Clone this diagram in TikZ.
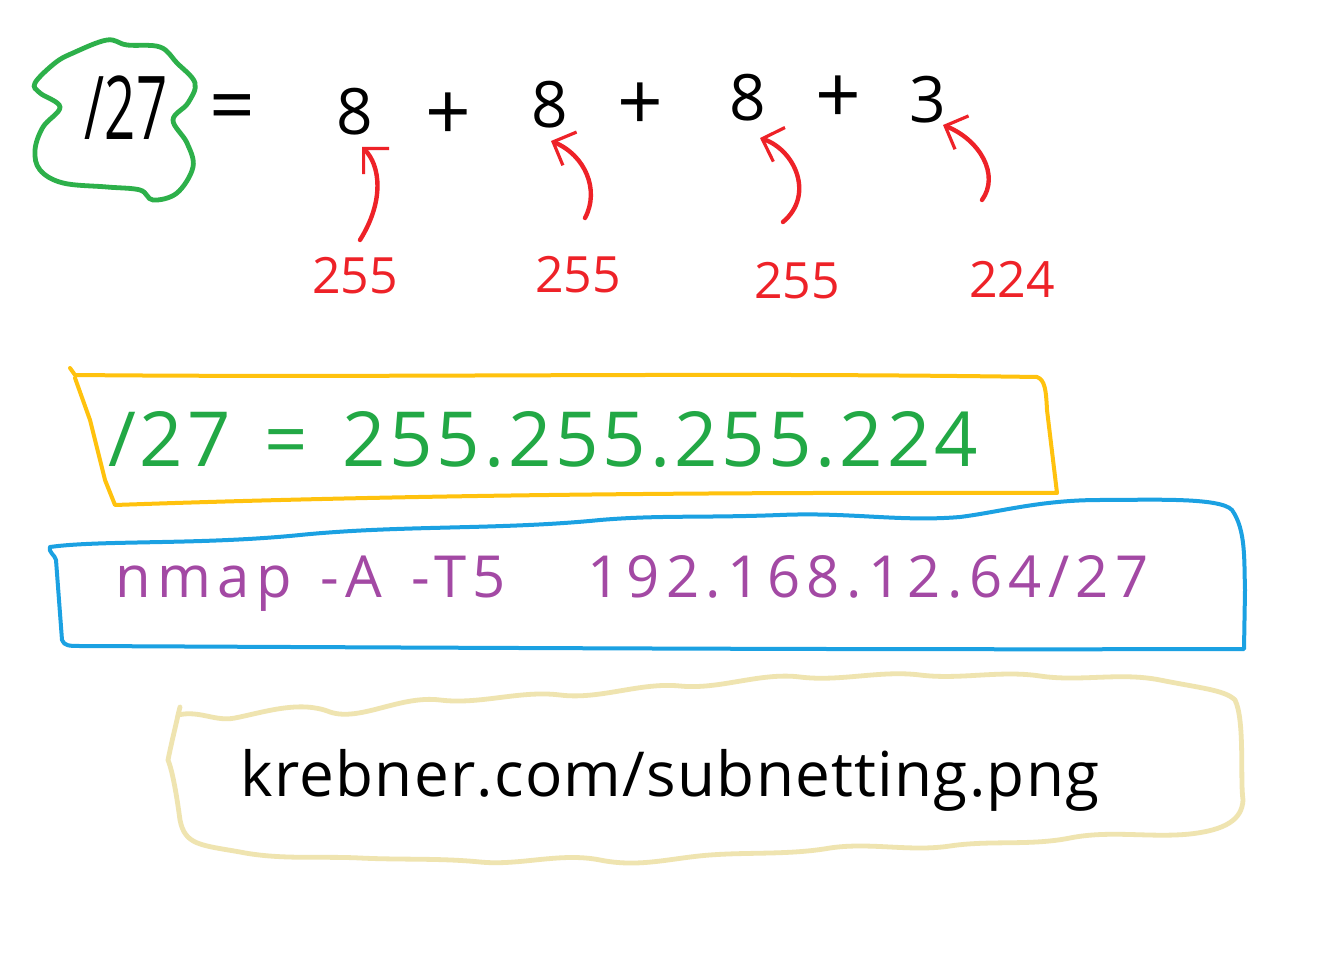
\documentclass[tikz,border=0pt]{standalone}
\usepackage{fontspec}
\setmainfont{Open Sans}
\usetikzlibrary{arrows.meta}
\definecolor{gblob}{HTML}{2DB04A}
\definecolor{redpen}{HTML}{EE2228}
\definecolor{yelbox}{HTML}{FFC20E}
\definecolor{bluebox}{HTML}{1BA1E2}
\definecolor{purpen}{HTML}{A349A4}
\definecolor{greenpen}{HTML}{22A845}
\definecolor{palebox}{HTML}{EFE4B0}
\tikzset{
  inktext/.style={inner sep=0pt, font=\fontsize{#1}{#1}\selectfont},
  blackink/.style={inktext=#1, text=black},
  redink/.style={inktext=#1, text=redpen},
  redarrow/.style={draw=redpen, line width=2.2pt, line cap=round, -{Straight Barb[length=9pt,width=18pt,line width=1.6pt]}},
  frame/.style={line width=2pt, line cap=round, line join=round},
}
\begin{document}
\begin{tikzpicture}[x=0.5pt,y=-0.5pt]
\useasboundingbox (0,0) rectangle (1332,956);
\fill[white] (0,0) rectangle (1332,956);

% green blob
\draw[gblob, line width=2.4pt, line cap=round] plot[smooth cycle, tension=0.6] coordinates {
 (35,83) (55,63) (73,53) (107,40) (127,45) (160,47) (177,63) (195,83) (188,103)
 (173,120) (187,143) (193,167) (177,193) (153,200) (140,190) (107,187) (63,183)
 (40,170) (35,150) (43,127) (60,107) (40,93)};
\node[blackink=44] (slash) at (126,108) {\scalebox{0.62}[1]{/27}};
\node[blackink=40] (eq) at (232,114) {=};

% top row
\node[blackink=32] (d1) at (355,112) {8};
\node[blackink=40] (p1) at (448,117) {+};
\node[blackink=32] (d2) at (550,105) {8};
\node[blackink=40] (p2) at (640,107) {+};
\node[blackink=32] (d3) at (748,98) {8};
\node[blackink=40] (p3) at (838,100) {+};
\node[blackink=32] (d4) at (928,100) {3};

% red labels
\node[redink=25] (l1) at (355,276) {255};
\node[redink=25] (l2) at (578,275) {255};
\node[redink=25] (l3) at (797,281) {255};
\node[redink=25] (l4) at (1012,279) {224};

\coordinate (t1) at (360,240);
\coordinate (t2) at (585,218);
\coordinate (t3) at (783,222);
\coordinate (t4) at (982,200);
\coordinate (h1) at (362,147);
\coordinate (h2) at (551,141);
\coordinate (h3) at (760,138);
\coordinate (h4) at (943,125);

\draw[redarrow] (t1) .. controls (385,200) and (380,165) .. (h1);
\draw[redarrow] (t2) .. controls (600,190) and (585,155) .. (h2);
\draw[redarrow] (t3) .. controls (815,195) and (795,150) .. (h3);
\draw[redarrow] (t4) .. controls (1000,175) and (980,140) .. (h4);

% yellow box
\draw[yelbox, frame] (70,368) -- (75,375) .. controls (400,378) and (700,372) .. (1037,377)
  .. controls (1045,380) and (1046,390) .. (1047,410) -- (1057,493)
  .. controls (700,492) and (400,495) .. (115,505) -- (105,480) -- (90,420) -- (75,378);
\node[inktext=38, text=greenpen] (mask) at (543,440) {\addfontfeature{LetterSpace=5}/27\hspace{0.45em}=\hspace{0.45em}255.255.255.224};

% blue box
\draw[bluebox, frame] (50,547) .. controls (48,552) and (55,555) .. (56,560)
  -- (62,640) .. controls (64,646) and (70,646) .. (80,646)
  .. controls (500,648) and (900,650) .. (1244,649)
  -- (1245,590) .. controls (1244,560) and (1246,530) .. (1232,510)
  .. controls (1220,497) and (1150,500) .. (1100,500)
  .. controls (1040,500) and (1000,512) .. (960,517)
  .. controls (900,522) and (850,512) .. (780,515)
  .. controls (700,518) and (660,515) .. (600,520)
  .. controls (500,530) and (400,525) .. (300,535)
  .. controls (200,545) and (100,540) .. (50,547);
\node[inktext=29, text=purpen] (cmd) at (632,583) {\addfontfeature{LetterSpace=11}nmap\hspace{0.5em}-A\hspace{0.5em}-T5\hspace{1.4em}192.168.12.64/27};

% pale box
\draw[palebox, line width=2.4pt, line cap=round, line join=round]
  (180,707) -- (178,715) .. controls (200,710) and (215,722) .. (235,718)
  .. controls (265,712) and (300,700) .. (330,712)
  .. controls (360,722) and (400,695) .. (440,700)
  .. controls (480,705) and (520,690) .. (560,695)
  .. controls (600,700) and (640,682) .. (680,686)
  .. controls (720,690) and (760,672) .. (800,677)
  .. controls (840,682) and (880,670) .. (920,675)
  .. controls (960,680) and (1000,670) .. (1040,676)
  .. controls (1080,682) and (1120,672) .. (1160,680)
  .. controls (1200,688) and (1225,690) .. (1235,700)
  .. controls (1245,720) and (1240,780) .. (1243,800)
  .. controls (1242,820) and (1225,830) .. (1190,834)
  .. controls (1150,838) and (1110,830) .. (1070,838)
  .. controls (1030,846) and (990,840) .. (950,846)
  .. controls (910,852) and (870,842) .. (830,848)
  .. controls (790,855) and (750,852) .. (710,855)
  .. controls (670,858) and (640,868) .. (600,860)
  .. controls (560,852) and (520,866) .. (480,862)
  .. controls (440,858) and (400,860) .. (360,858)
  .. controls (320,856) and (280,860) .. (240,852)
  .. controls (200,845) and (185,845) .. (180,820)
  .. controls (176,790) and (172,770) .. (168,760)
  .. controls (172,740) and (176,725) .. (178,715);
\node[blackink=31] (url) at (670,780) {\addfontfeature{LetterSpace=2}krebner.com/subnetting.png};
\end{tikzpicture}
\end{document}
